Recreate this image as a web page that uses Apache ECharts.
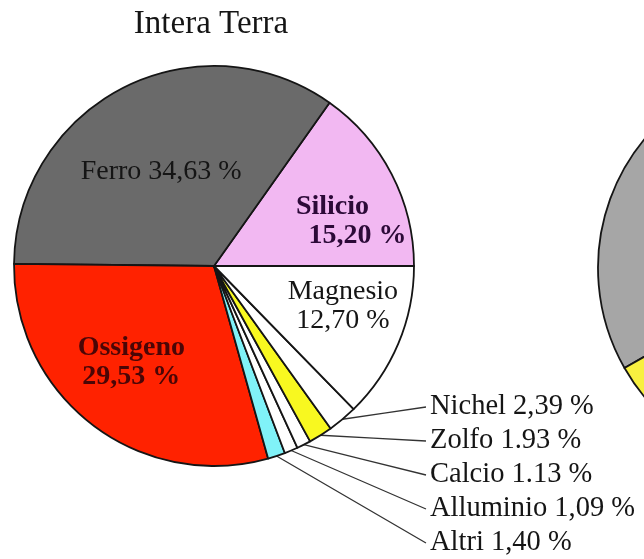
<!DOCTYPE html>
<html>
<head>
<meta charset="utf-8">
<title>Intera Terra</title>
<script src="https://cdn.jsdelivr.net/npm/echarts@6/dist/echarts.min.js"></script>
<style>
  html, body { margin: 0; padding: 0; background: #fff; }
  #chart { width: 644px; height: 559px; }
</style>
</head>
<body>
<div id="chart"></div>
<script>
// elementi in senso antiorario partendo dalle ore 3
const elementi = ['Silicio', 'Ferro', 'Ossigeno', 'Altri', 'Alluminio', 'Calcio', 'Zolfo', 'Nichel', 'Magnesio']
const percentuali = [15.20, 34.63, 29.53, 1.40, 1.09, 1.13, 1.93, 2.39, 12.70]
const testiPercentuali = ['15,20 %', '34,63 %', '29,53 %', '1,40 %', '1,09 %', '1.13 %', '1.93 %', '2,39 %', '12,70 %']
const colori = ['#f2b8f2', '#6a6a6a', '#ff2200', '#80f2f8', '#ffffff', '#ffffff', '#f8f820', '#ffffff', '#ffffff']

// etichette fuori dalla torta, dall'alto in basso
const etichetteEsterne = ['Nichel', 'Zolfo', 'Calcio', 'Alluminio', 'Altri']

// seconda torta, tagliata dal bordo destro
const elementi2 = ['Ferro', 'Zolfo', 'Nichel', 'Altri']
const percentuali2 = [88.8, 4.5, 5.8, 0.9]
const colori2 = ['#a6a6a6', '#f8f040', '#ffffff', '#ffffff']

const font = 'Liberation Serif, Times New Roman, serif'

// stile delle etichette interne
const stileInterno = {
  Ferro: { color: '#151515', weight: 'normal', dx: -6, dy: -3 },
  Silicio: { color: '#2c0a38', weight: 'bold', dx: 52, dy: 3 },
  Ossigeno: { color: '#4a0606', weight: 'bold', dx: -20, dy: 15 },
  Magnesio: { color: '#151515', weight: 'normal', dx: 34, dy: 0 }
}

const datiTorta = elementi.map((nome, i) => {
  const esterna = etichetteEsterne.includes(nome)
  const item = { name: nome, value: percentuali[i], itemStyle: { color: colori[i] } }
  if (esterna) {
    item.label = {
      position: 'outside',
      formatter: nome + ' ' + testiPercentuali[i],
      color: '#151515',
      fontSize: 28.5
    }
    item.labelLine = { show: true }
  } else {
    const s = stileInterno[nome]
    let testo = nome + '\n' + testiPercentuali[i]
    if (nome === 'Ferro') testo = nome + ' ' + testiPercentuali[i]
    if (nome === 'Silicio') testo = '{a|' + nome + '}\n' + testiPercentuali[i]
    item.label = {
      position: 'inside',
      formatter: testo,
      color: s.color,
      fontWeight: s.weight,
      fontSize: 28,
      lineHeight: 29,
      rich: {
        a: { fontFamily: font, fontSize: 28, fontWeight: s.weight, color: s.color, padding: [0, 50, 0, 0] }
      }
    }
    item.labelLine = { show: false }
  }
  return item
})

const chart = echarts.init(document.getElementById('chart'))

const option = {
  animation: false,
  backgroundColor: '#fff',
  title: {
    text: 'Intera Terra',
    left: 206,
    top: 3,
    textAlign: 'center',
    textStyle: { fontFamily: font, fontSize: 33, fontWeight: 'normal', color: '#151515' }
  },
  series: [
    {
      type: 'pie',
      center: [214, 266],
      radius: 200,
      startAngle: 0,
      clockwise: false,
      avoidLabelOverlap: false,
      silent: true,
      itemStyle: { borderColor: '#151515', borderWidth: 1.8 },
      label: { fontFamily: font },
      labelLine: { lineStyle: { color: '#333', width: 1.3 } },
      labelLayout: function (params) {
        const nome = elementi[params.dataIndex]
        const k = etichetteEsterne.indexOf(nome)
        if (k < 0) {
          const s = stileInterno[nome]
          return { dx: s.dx, dy: s.dy }
        }
        const y = 407 + k * 34
        const pts = params.labelLinePoints
        const res = { x: 430, y: y, align: 'left', verticalAlign: 'middle' }
        if (pts && pts.length) {
          const p0 = pts[0]
          res.labelLinePoints = [p0, [(p0[0] + 426) / 2, (p0[1] + y) / 2], [426, y]]
        }
        return res
      },
      data: datiTorta
    },
    {
      type: 'pie',
      center: [800, 268],
      radius: 202,
      startAngle: -110,
      clockwise: false,
      silent: true,
      label: { show: false },
      labelLine: { show: false },
      itemStyle: { borderColor: '#151515', borderWidth: 1.8 },
      data: elementi2.map((nome, i) => ({ name: nome, value: percentuali2[i], itemStyle: { color: colori2[i] } }))
    }
  ]
}

chart.setOption(option)
</script>
</body>
</html>
